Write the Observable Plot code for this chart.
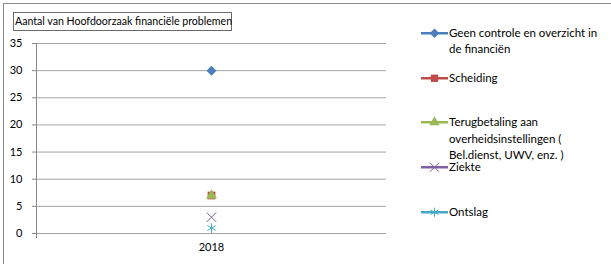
<!DOCTYPE html>
<html>
<head>
<meta charset="utf-8">
<script src="https://cdn.jsdelivr.net/npm/d3@7"></script>
<script src="https://cdn.jsdelivr.net/npm/@observablehq/plot@0.6"></script>
<style>
  html, body { margin: 0; padding: 0; background: #fff; overflow: hidden; }
  #wrap { position: relative; width: 611px; height: 264px; font-family: Lato, "Open Sans", sans-serif; color: #000; }
  #border { position: absolute; left: 3px; top: 3px; width: 700px; height: 400px; border: 1px solid #8a8a8a; box-sizing: border-box; }
  #title { position: absolute; left: 13px; top: 12px; width: 219px; height: 19px; border: 1px solid #6a6a6a; box-sizing: border-box; font-size: 10.6px; line-height: 17px; padding-left: 1px; white-space: nowrap; }
  #chart { position: absolute; left: 0; top: 0; }
  .leg { position: absolute; left: 421px; }
  .leg svg { position: absolute; left: 0; top: 0; }
  .leg div { position: absolute; left: 28px; top: 0; font-size: 11.5px; line-height: 16.3px; width: 160px; }
</style>
</head>
<body>
<div id="wrap">
  <div id="border"></div>
  <div id="chart"></div>
  <div id="title"></div>
</div>
<script>
const title = "Aantal van Hoofdoorzaak financiële problemen";
const years = ["2018"];
const series = [
  "Geen controle en overzicht in de financiën",
  "Scheiding",
  "Terugbetaling aan overheidsinstellingen ( Bel.dienst, UWV, enz. )",
  "Ziekte",
  "Ontslag"
];
const legendLabels = [
  ["Geen controle en overzicht in", "de financiën"],
  ["Scheiding"],
  ["Terugbetaling aan", "overheidsinstellingen (", "Bel.dienst, UWV, enz. )"],
  ["Ziekte"],
  ["Ontslag"]
];
const values2018 = [30, 7, 7, 3, 1];
const colors = ["#4a7ebb", "#be4b48", "#98b954", "#7d60a0", "#46aac5"];
const symbolNames = ["rhombus", "square", "triangle", "times", "asterisk"];
const yTicks = [0, 5, 10, 15, 20, 25, 30, 35];

document.getElementById("title").textContent = title;

// Excel-style diamond: a square rotated 45°
const rhombus = {
  draw(ctx, size) {
    const r = Math.sqrt(size / 2);
    ctx.moveTo(0, -r); ctx.lineTo(r, 0); ctx.lineTo(0, r); ctx.lineTo(-r, 0); ctx.closePath();
  }
};
const symbolTypes = {rhombus, square: d3.symbolSquare, triangle: d3.symbolTriangle, times: d3.symbolTimes, asterisk: d3.symbolAsterisk};
const filled = new Set(["rhombus", "square", "triangle"]);
// symbol areas (px^2)
const areas = {rhombus: 50, square: 60, triangle: 52, times: 60, asterisk: 64};

const data = series.map((s, i) => ({series: s, year: years[0], value: values2018[i], i}));

const marks = [
  Plot.ruleY(yTicks, {stroke: "#a3a3a3", strokeWidth: 1}),
  Plot.axisY({ticks: yTicks, tickSize: 4, tickPadding: 10, fontSize: 11, stroke: "#888", label: null}),
  Plot.axisX({tickSize: 0, tickPadding: 10, fontSize: 11, label: null}),
  Plot.frame({anchor: "left", stroke: "#888", insetBottom: -4})
];
data.forEach(d => {
  const name = symbolNames[d.i];
  const isFilled = filled.has(name);
  marks.push(Plot.dot([d], {
    x: "year", y: "value",
    symbol: symbolTypes[name],
    r: Math.sqrt(areas[name] / Math.PI),
    fill: isFilled ? colors[d.i] : "none",
    stroke: isFilled ? "none" : colors[d.i],
    strokeWidth: 1
  }));
});

const chart = Plot.plot({
  width: 611,
  height: 264,
  marginLeft: 36,
  marginRight: 225,
  marginTop: 43,
  marginBottom: 31,
  style: {fontFamily: "Lato, 'Open Sans', sans-serif", fontSize: "11px", color: "#000", background: "transparent", overflow: "visible"},
  x: {type: "band", domain: years, padding: 0},
  y: {domain: [0, 35]},
  marks
});
document.getElementById("chart").appendChild(chart);

// legend
const wrap = document.getElementById("wrap");
legendLabels.forEach((lines, i) => {
  const top = 33 + i * 44.8 - 8.15;
  const el = document.createElement("div");
  el.className = "leg";
  el.style.top = top + "px";
  const svg = d3.create("svg").attr("width", 28).attr("height", 17);
  svg.append("line").attr("x1", 0).attr("x2", 27).attr("y1", 8.25).attr("y2", 8.25)
    .attr("stroke", colors[i]).attr("stroke-width", 2.5);
  const name = symbolNames[i];
  const isFilled = filled.has(name);
  svg.append("path").attr("d", d3.symbol(symbolTypes[name], areas[name] * 0.9)())
    .attr("transform", "translate(13.5,8.25)")
    .attr("fill", isFilled ? colors[i] : "none")
    .attr("stroke", isFilled ? "none" : colors[i]).attr("stroke-width", 1);
  el.appendChild(svg.node());
  const txt = document.createElement("div");
  txt.innerHTML = lines.join("<br>");
  el.appendChild(txt);
  wrap.appendChild(el);
});
</script>
</body>
</html>
